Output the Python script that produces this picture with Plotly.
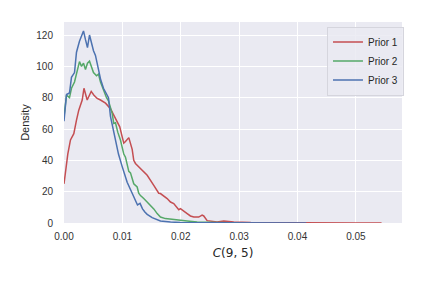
import plotly.graph_objects as go

# x values in units of 1e-3 (converted below), density values
prior1_x = [0.0, 0.26, 0.65, 1.11, 1.68, 2.14, 2.53, 3.12, 3.42, 3.97, 4.66, 5.10, 5.68, 6.25, 7.11,
            7.96, 8.82, 9.11, 9.55, 9.97, 10.24, 10.53, 11.10, 11.68, 11.95, 12.24, 13.10, 14.25,
            15.38, 16.23, 16.52, 17.67, 18.24, 18.80, 19.66, 19.95, 21.10, 21.66, 22.23, 23.08,
            23.66, 23.94, 24.52, 26.23, 27.36, 29.08, 32.0, 35.0, 40.0, 45.0, 50.0, 54.4]
prior1_y = [25, 33.7, 44, 53, 57, 65.7, 72, 78.5, 86, 78.5, 84, 81.7, 79.5, 78.5, 76.5,
            73, 67, 65, 61.4, 55, 51, 52, 54.5, 47, 40, 38, 35, 30.5,
            24, 19, 18.8, 15.6, 13.4, 12.4, 8.5, 9.2, 6, 4.5, 3.8, 3.8,
            5, 4.5, 1.5, 0.6, 1.3, 0.6, 0.3, 0.2, 0.15, 0.1, 0.05, 0.02]

prior2_x = [0.0, 0.43, 0.94, 1.28, 1.80, 2.14, 2.65, 3.00, 3.34, 3.68, 4.02, 4.37, 4.71, 5.05, 5.57,
            5.91, 6.25, 6.76, 7.28, 7.62, 7.96, 8.25, 8.53, 8.82, 9.21, 9.67, 10.24, 10.53, 11.10,
            11.39, 11.95, 12.53, 12.80, 13.10, 13.66, 14.25, 14.81, 15.38, 15.96, 16.52, 17.38,
            19.38, 21.10, 22.81, 25.0, 28.0, 30.0]
prior2_y = [68, 81.6, 80, 86, 90, 96, 103, 100, 102, 98, 102, 103.3, 100, 96, 94,
            95, 90, 85, 80, 78, 73, 70, 63.5, 64, 58, 53, 44, 42, 33,
            32, 25, 23, 19, 17.5, 15.6, 13.4, 11, 9, 6, 3.8, 2.8,
            2.2, 1.3, 0.6, 0.3, 0.1, 0.05]

prior3_x = [0.0, 0.43, 0.94, 1.28, 1.80, 2.14, 2.65, 3.00, 3.34, 3.68, 4.02, 4.37, 4.71, 5.05, 5.39,
            5.74, 6.25, 6.76, 7.28, 7.62, 7.96, 8.53, 9.11, 9.33, 9.97, 10.82, 11.68, 12.24, 12.59,
            13.03, 13.45, 13.85, 14.25, 15.10, 16.52, 18.24, 20.0, 25.0, 30.0, 35.0, 41.5]
prior3_y = [65, 82, 83, 93, 96, 109, 116, 119, 122.6, 117, 112, 120, 115, 110, 107,
            100, 92, 86, 82, 80, 68, 57, 46, 44, 36, 26, 19, 14, 11.5,
            12.5, 9, 7, 5.5, 3.4, 1.3, 0.6, 0.3, 0.1, 0.05, 0.02, 0.01]

series_names = ["Prior 1", "Prior 2", "Prior 3"]
series_colors = ["#C44E52", "#55A868", "#4C72B0"]
x_ticks = [0.0, 0.01, 0.02, 0.03, 0.04, 0.05]
x_tick_labels = ["0.00", "0.01", "0.02", "0.03", "0.04", "0.05"]
y_ticks = [0, 20, 40, 60, 80, 100, 120]

fig = go.Figure()
for name, color, xs, ys in zip(series_names, series_colors,
                               [prior1_x, prior2_x, prior3_x],
                               [prior1_y, prior2_y, prior3_y]):
    fig.add_trace(go.Scatter(x=[v / 1000 for v in xs], y=ys, mode="lines", name=name,
                             line=dict(color=color, width=1.5)))

font_fam = "Liberation Sans, Arial, sans-serif"
fig.update_layout(
    width=423, height=282,
    margin=dict(l=64, r=21, t=22, b=59),
    paper_bgcolor="white", plot_bgcolor="#EAEAF2",
    font=dict(family=font_fam, size=10, color="#333333"),
    showlegend=True,
    legend=dict(x=0.778, y=0.977, xanchor="left", yanchor="top",
                bgcolor="rgba(234,234,242,0.85)", bordercolor="#D5D5DD", borderwidth=1,
                font=dict(size=10, color="#262626"), itemwidth=30, tracegroupgap=0),
)
fig.update_xaxes(range=[0, 0.0579], tickvals=x_ticks, ticktext=x_tick_labels,
                 showgrid=True, gridcolor="white", gridwidth=1, zeroline=False,
                 showline=False, ticks="outside", ticklen=4, tickcolor="rgba(0,0,0,0)",
                 title=dict(text="<i>C</i>(9, 5)", font=dict(family="DejaVu Sans", size=12, color="#262626"),
                            standoff=7))
fig.update_yaxes(range=[0, 128.3], tickvals=y_ticks,
                 showgrid=True, gridcolor="white", gridwidth=1, zeroline=False,
                 showline=False, ticks="outside", ticklen=8, tickcolor="rgba(0,0,0,0)",
                 title=dict(text="Density", font=dict(size=11, color="#262626"), standoff=4))

fig.write_html("out.html")
